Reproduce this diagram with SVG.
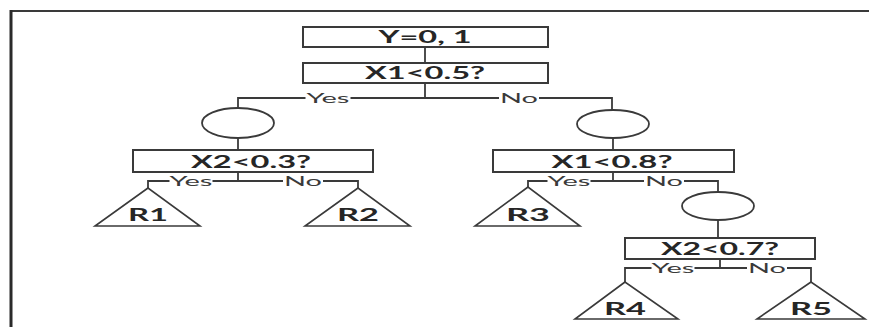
<svg xmlns="http://www.w3.org/2000/svg" width="869" height="327" viewBox="0 0 869 327">
<style>
.bx{fill:#fff;stroke:#3a3a3a;stroke-width:2}
.ci{fill:#fff;stroke:#3a3a3a;stroke-width:1.8}
.tr{fill:#fff;stroke:#3a3a3a;stroke-width:1.6}
.ln{fill:none;stroke:#3a3a3a;stroke-width:1.8}
.t{font-family:Lato,"Open Sans",sans-serif;font-weight:bold;font-size:16.5px;fill:#262626;text-anchor:middle}
.lb{font-family:Lato,"Open Sans",sans-serif;font-size:14px;fill:#3a3a3a;text-anchor:middle}
</style>
<rect width="869" height="327" fill="#fff"/>
<g id="frame">
<line x1="10" y1="11" x2="869" y2="11" stroke="#3a3a3a" stroke-width="2"/>
<line x1="11" y1="10" x2="11" y2="327" stroke="#2a2a2a" stroke-width="3"/>
</g>
<g id="connectors">
<line class="ln" x1="425" y1="47" x2="425" y2="63"/>
<line class="ln" x1="425" y1="83" x2="425" y2="98"/>
<path class="ln" d="M238,108 V98 H305.5 M350.5,98 H499 M539,98 H612 V110"/>
<line class="ln" x1="238" y1="138" x2="238" y2="150"/>
<line class="ln" x1="613" y1="138" x2="613" y2="150"/>
<line class="ln" x1="238" y1="172" x2="238" y2="181"/>
<path class="ln" d="M148,188 V181 H169.5 M212.5,181 H283 M323,181 H358 V188"/>
<line class="ln" x1="613" y1="172" x2="613" y2="181"/>
<path class="ln" d="M528,187 V181 H547.5 M590.5,181 H644 M684,181 H718 V192"/>
<line class="ln" x1="718" y1="220" x2="718" y2="238"/>
<line class="ln" x1="720" y1="259" x2="720" y2="268"/>
<path class="ln" d="M625,282 V268 H651.5 M694.5,268 H747 M787,268 H811 V282"/>
<text class="lb" x="328" y="103" textLength="43" lengthAdjust="spacingAndGlyphs">Yes</text>
<text class="lb" x="519" y="103" textLength="38" lengthAdjust="spacingAndGlyphs">No</text>
<text class="lb" x="191" y="186" textLength="43" lengthAdjust="spacingAndGlyphs">Yes</text>
<text class="lb" x="303" y="186" textLength="38" lengthAdjust="spacingAndGlyphs">No</text>
<text class="lb" x="569" y="186" textLength="43" lengthAdjust="spacingAndGlyphs">Yes</text>
<text class="lb" x="664" y="186" textLength="38" lengthAdjust="spacingAndGlyphs">No</text>
<text class="lb" x="673" y="273" textLength="43" lengthAdjust="spacingAndGlyphs">Yes</text>
<text class="lb" x="767" y="273" textLength="38" lengthAdjust="spacingAndGlyphs">No</text>
</g>
<g id="root"><rect class="bx" x="303" y="27" width="245" height="20"/><text class="t" x="425" y="43" textLength="93" lengthAdjust="spacingAndGlyphs">Y=0, 1</text></g>
<g id="q1"><rect class="bx" x="303" y="63" width="245" height="20"/><text class="t" x="425" y="79" textLength="120" lengthAdjust="spacingAndGlyphs">X1&lt;0.5?</text></g>
<g id="c1"><ellipse class="ci" cx="238" cy="123" rx="36" ry="15"/></g>
<g id="c2"><ellipse class="ci" cx="613" cy="124" rx="36" ry="14"/></g>
<g id="q2"><rect class="bx" x="133" y="150" width="240" height="22"/><text class="t" x="251" y="167.5" textLength="120" lengthAdjust="spacingAndGlyphs">X2&lt;0.3?</text></g>
<g id="q3"><rect class="bx" x="493" y="150" width="241" height="22"/><text class="t" x="612" y="167.5" textLength="121" lengthAdjust="spacingAndGlyphs">X1&lt;0.8?</text></g>
<g id="r1"><polygon class="tr" points="148,188 95,226 200,226"/><text class="t" x="148" y="220.5" textLength="40" lengthAdjust="spacingAndGlyphs">R1</text></g>
<g id="r2"><polygon class="tr" points="358,188 305,226 410,226"/><text class="t" x="358" y="220.5" textLength="42" lengthAdjust="spacingAndGlyphs">R2</text></g>
<g id="r3"><polygon class="tr" points="528,187 475,226 580,226"/><text class="t" x="528" y="220.5" textLength="44" lengthAdjust="spacingAndGlyphs">R3</text></g>
<g id="c3"><ellipse class="ci" cx="718" cy="206" rx="36" ry="14"/></g>
<g id="q4"><rect class="bx" x="625" y="238" width="190" height="21"/><text class="t" x="720" y="255" textLength="118" lengthAdjust="spacingAndGlyphs">X2&lt;0.7?</text></g>
<g id="r4"><polygon class="tr" points="625,282 575,319 678,319"/><text class="t" x="625" y="314.5" textLength="42" lengthAdjust="spacingAndGlyphs">R4</text></g>
<g id="r5"><polygon class="tr" points="811,282 757,319 865,319"/><text class="t" x="811" y="314.5" textLength="42" lengthAdjust="spacingAndGlyphs">R5</text></g>
</svg>
